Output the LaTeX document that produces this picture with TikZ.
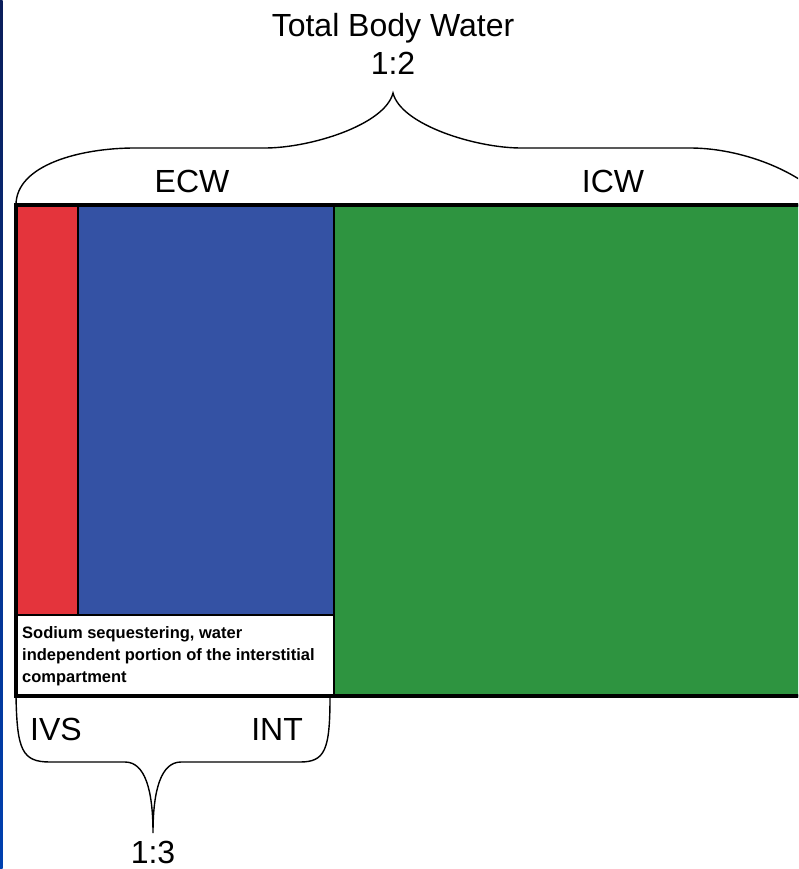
\documentclass[tikz,border=0pt]{standalone}
\usepackage{fontspec}
\setmainfont{Liberation Sans}
\definecolor{ivsred}{RGB}{228,52,60}
\definecolor{intblue}{RGB}{52,82,164}
\definecolor{icwgreen}{RGB}{46,148,64}
\definecolor{edgenavy}{RGB}{10,30,90}
\definecolor{edgeblue}{RGB}{0,64,176}

\begin{document}
\begin{tikzpicture}[x=1pt,y=-1pt,
    comp/.style={draw,line width=1.5pt,anchor=north west,inner sep=0pt,outer sep=0pt},
    lbl/.style={font=\fontsize{32}{38}\selectfont,inner sep=0pt,anchor=base},
    brace/.style={line width=1.4pt}]
	\useasboundingbox (0,0) rectangle (798,869);
	\clip (0,0) rectangle (798,869);
	\shade[top color=edgenavy,bottom color=edgeblue] (0,0) rectangle (2.5,869);
	% compartments
	\node[comp,fill=ivsred,minimum width=62,minimum height=410] (ivs) at (16,205) {};
	\node[comp,fill=intblue,minimum width=256,minimum height=410] (int) at (ivs.north east) {};
	\node[comp,fill=white,minimum width=318,minimum height=81] (note) at (ivs.south west) {};
	\node[comp,fill=icwgreen,minimum width=490,minimum height=491] (icw) at (int.north east) {};
	\draw[line width=4pt] (icw.north east) -- (ivs.north west) -- (note.south west) -- (icw.south east);
	\node[anchor=north west,align=left,inner sep=0pt,font=\bfseries\fontsize{16.5}{22}\selectfont] (notetxt) at (22,626)
		{Sodium sequestering, water\\independent portion of the interstitial\\compartment};
	% labels
	\node[lbl] (tbw) at (393,37) {Total Body Water};
	\node[lbl] (r12) at (393,75) {1:2};
	\node[lbl] (ecw) at (192,193) {ECW};
	\node[lbl] (icwl) at (613,193) {ICW};
	\node[lbl,anchor=base west] (ivsl) at (30,740) {IVS};
	\node[lbl,anchor=base east] (intl) at (303,740) {INT};
	\node[lbl] (r13) at (153,863) {1:3};
	% braces
	\coordinate (tip1) at (393,93);
	\coordinate (tip2) at (153,833);
	\coordinate (end1) at (830,205);
	\coordinate (end2) at (330,697);
	\draw[brace] (ivs.north west) .. controls (16,165) and (80,148) .. (135,148) -- (265,148)
		.. controls (310,148) and (385,125) .. (tip1)
		.. controls (401,125) and (476,148) .. (521,148) -- (690,148)
		.. controls (740,148) and (800,170) .. (end1);
	\draw[brace] (note.south west) .. controls (17,750) and (22,762) .. (50,762) -- (125,762)
		.. controls (145,762) and (153,790) .. (tip2)
		.. controls (153,790) and (161,762) .. (181,762) -- (300,762)
		.. controls (325,762) and (330,750) .. (end2);
\end{tikzpicture}
\end{document}
